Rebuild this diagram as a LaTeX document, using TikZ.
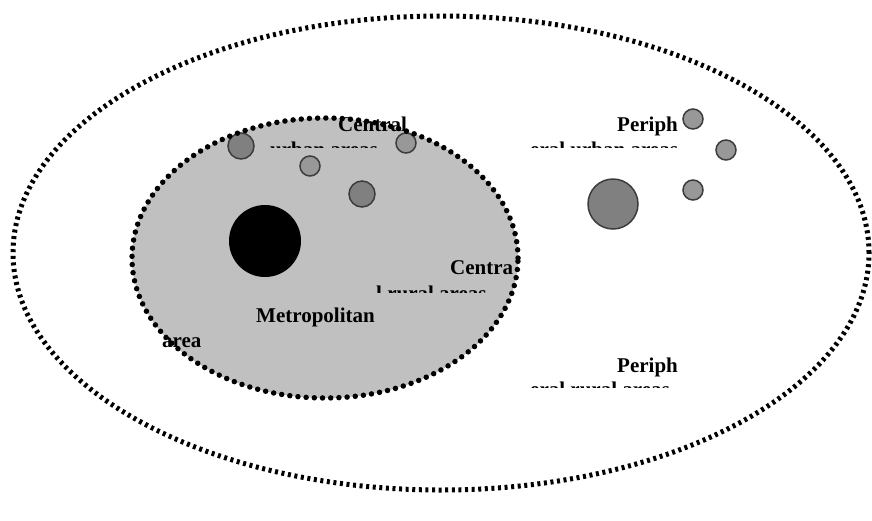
\documentclass[tikz,border=0pt]{standalone}
\usepackage{fontspec}
\setmainfont{Liberation Serif}
\usepackage{tikz}
\usetikzlibrary{positioning}
\definecolor{metroG}{RGB}{192,192,192}
\definecolor{townD}{RGB}{128,128,128}
\definecolor{townL}{RGB}{152,152,152}
\definecolor{rimG}{RGB}{60,60,60}

\begin{document}
\begin{tikzpicture}[x=1pt, y=-1pt, font=\bfseries\fontsize{21}{24}\selectfont,
  region/.style={line width=5pt, dash pattern=on 3pt off 3.6pt},
  metro/.style={line width=5.5pt, line cap=round, dash pattern=on 0pt off 8.2pt},
  town/.style={circle, draw=rimG, line width=1.5pt, fill=townD, inner sep=0pt, minimum size=26pt},
  village/.style={town, fill=townL, minimum size=20pt},
  lbl/.style={anchor=base west, inner sep=0pt}]
  \useasboundingbox (0,0) rectangle (872,520);
  % regions
  \draw[region] (441,253) ellipse [x radius=428pt, y radius=237pt];
  \fill[metroG] (325,258) ellipse [x radius=193pt, y radius=140pt];
  % centres
  \node[circle, fill=black, inner sep=0pt, minimum size=72pt] (city) at (265,241) {};
  \node[town] (c1) at (241,146) {};
  \node[village] (c2) at (310,166) {};
  \node[town] (c3) at (362,194) {};
  \node[village] (c4) at (406,143) {};
  \node[town, minimum size=50pt] (p0) at (613,204) {};
  \node[village] (p1) at (693,119) {};
  \node[village] (p2) at (726,150) {};
  \node[village] (p3) at (693,190) {};
  % labels (second lines cut off)
  \node[lbl] (cu1) at (338,131) {Central};
  \begin{scope}\clip (260,130) rectangle (400,147);
    \node[lbl] (cu2) at (270,156) {urban areas};
  \end{scope}
  \node[lbl] (cr1) at (450,274) {Centra};
  \begin{scope}\clip (370,280) rectangle (500,292);
    \node[lbl] (cr2) at (376,300) {l rural areas};
  \end{scope}
  \node[lbl] (ma1) at (256,322) {Metropolitan};
  \node[lbl] (ma2) at (162,347) {area};
  \node[lbl] (pu1) at (617,131) {Periph};
  \begin{scope}\clip (520,130) rectangle (690,147);
    \node[lbl] (pu2) at (530,156) {eral urban areas};
  \end{scope}
  \node[lbl] (pr1) at (617,372) {Periph};
  \begin{scope}\clip (520,372) rectangle (690,387);
    \node[lbl] (pr2) at (530,396) {eral rural areas};
  \end{scope}
  % dotted rim over the labels
  \draw[metro] (325,258) ellipse [x radius=193pt, y radius=140pt];
\end{tikzpicture}
\end{document}
